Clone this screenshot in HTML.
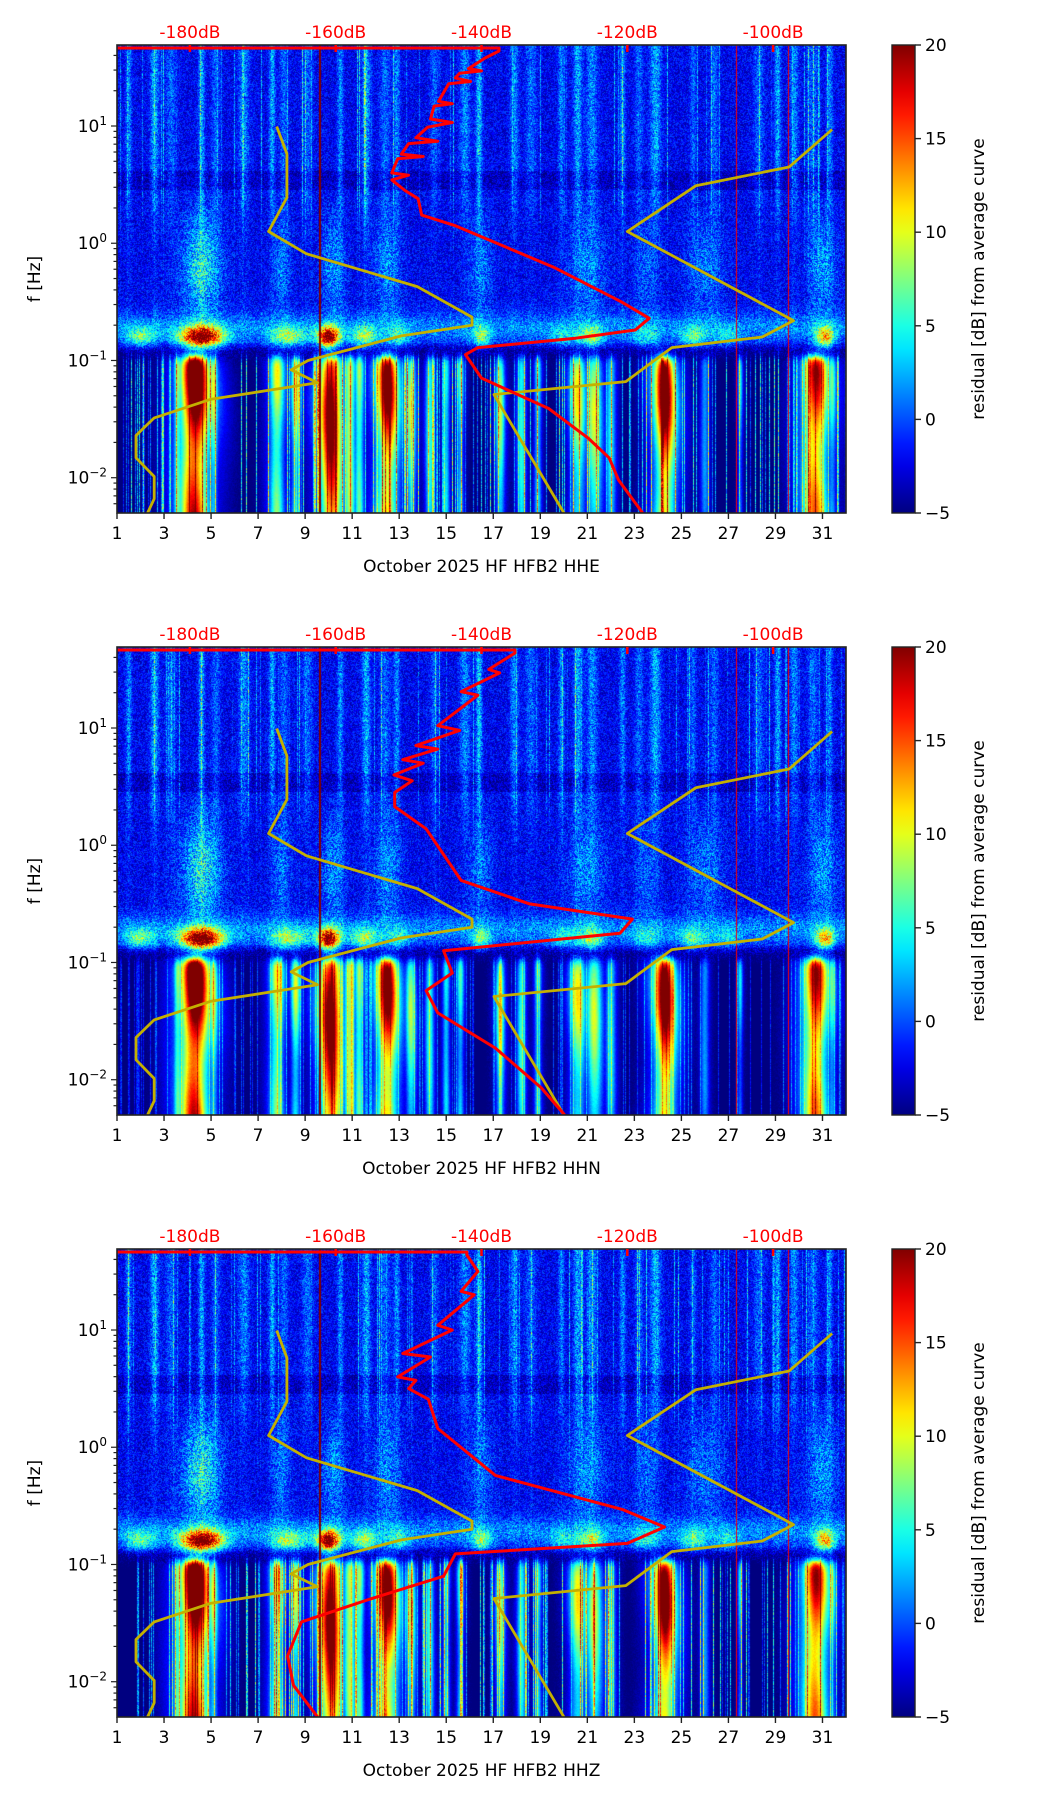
<!DOCTYPE html>
<html><head><meta charset="utf-8">
<style>
html,body{margin:0;padding:0;background:#fff;}
body{width:1052px;height:1806px;position:relative;overflow:hidden;font-family:"DejaVu Sans","Liberation Sans",sans-serif;}
canvas{position:absolute;}
svg{position:absolute;left:0;top:0;}
</style></head>
<body>
<svg id="fig" width="1052" height="1806"></svg>
<script>
// ---- data arrays ----
const panelTitles = ["October 2025 HF HFB2  HHE","October 2025 HF HFB2  HHN","October 2025 HF HFB2  HHZ"];
const dayTicks = [1,3,5,7,9,11,13,15,17,19,21,23,25,27,29,31];
const dbTicks = [-180,-160,-140,-120,-100];
const cbTicks = [-5,0,5,10,15,20];
const decadeTicks = [-2,-1,0,1];
// NLNM (low noise model): dB, log10 f
const nlnmDb = [-168.1,-166.7,-166.7,-169.2,-164,-148.8,-141.3,-141.3,-151,-163.8,-166.1,-162.5,-177.1,-184.9,-187.4,-187.4,-184.9,-184.9,-185.8];
const nlnmLf = [0.996,0.762,0.39,0.10,-0.09,-0.37,-0.63,-0.70,-0.79,-1.0,-1.08,-1.19,-1.33,-1.49,-1.64,-1.83,-1.99,-2.18,-2.30];
// NHNM (high noise model)
const nhnmDb = [-91.9,-97.8,-110.6,-120,-97.2,-101.5,-113.9,-120.2,-138.3,-128.7];
const nhnmLf = [0.97,0.65,0.49,0.10,-0.66,-0.80,-0.89,-1.18,-1.29,-2.30];
// mean PSD curves per channel
const psdDbE = [-190,-137.6,-137.6,-139.5,-141.8,-140,-143,-143.6,-141.5,-144.5,-145.9,-144,-146.5,-147,-144,-147.4,-149,-146,-150,-151,-148,-151.5,-152.3,-150,-152.3,-150.5,-148.7,-148.2,-143.6,-129.9,-120.8,-117.0,-118.9,-127.1,-140.5,-142.2,-140,-130.8,-125.4,-122.5,-121.2,-117.9];
const psdLfE = [1.665,1.665,1.64,1.58,1.49,1.47,1.45,1.41,1.38,1.36,1.21,1.19,1.17,1.06,1.03,0.99,0.9,0.87,0.85,0.76,0.74,0.72,0.6,0.58,0.54,0.45,0.38,0.24,0.15,-0.21,-0.5,-0.64,-0.74,-0.81,-0.89,-0.95,-1.15,-1.41,-1.66,-1.83,-2.02,-2.3];
const psdDbN = [-190,-135.4,-135.4,-139,-137.5,-142.8,-140.5,-146,-143,-149,-146,-150.8,-148,-152,-149.5,-151.9,-151.9,-147.6,-142.8,-133.4,-119.3,-121,-145.2,-144,-147.6,-146,-138.1,-131.8,-128.6];
const psdLfN = [1.665,1.665,1.64,1.5,1.47,1.31,1.28,1.02,0.98,0.85,0.82,0.73,0.7,0.6,0.55,0.45,0.33,0.14,-0.3,-0.5,-0.63,-0.75,-0.9,-1.09,-1.24,-1.43,-1.73,-2.07,-2.3];
const psdDbZ = [-190,-142,-142,-140.5,-142.8,-141,-146,-144,-150.8,-147,-151.5,-149,-150,-147.3,-146,-138.1,-120.7,-114.9,-120,-143.6,-145.2,-155.5,-164.7,-166.6,-165.8,-162.5];
const psdLfZ = [1.665,1.665,1.64,1.5,1.33,1.3,1.04,1.0,0.8,0.77,0.6,0.57,0.5,0.41,0.16,-0.24,-0.53,-0.68,-0.82,-0.91,-1.1,-1.3,-1.49,-1.78,-2.03,-2.3];
// heatmap features: day centre, width (days), residual amplitude (dB)
const hfStripeDay = [1.5,2.6,3.3,4.6,5.2,6.4,7.6,8.1,9.1,10.5,11.6,12.4,12.9,14.5,15.8,16.4,17.9,18.6,19.9,20.6,21.2,22.5,23.2,23.9,25.5,26.4,28.3,29.1,29.8,30.6,31.3];
const hfStripeAmp = [4,5,3,5,3,4,5,3,3,4,5,3,4,3,4,6,4,3,4,5,4,4,3,5,3,3,3,5,4,3,4];
const glowDay = [4.6,8,10.2,12.5,16.5,21,23.5,26,31];
const glowWidth = [0.8,0.4,0.5,0.6,0.5,0.8,0.5,0.8,0.6];
const glowAmp = [7,3,4,3.5,3,3.5,2.5,3,4];
const msDay = [2,4.6,8.3,10,11.5,13,16.5,20,21.2,23.5,25.5,27,31.1];
const msWidth = [0.6,0.9,0.8,0.45,0.6,0.5,0.4,0.6,0.5,0.6,0.6,0.5,0.4];
const msAmp = [7,22,8,22,8,5,7,4,8,4,6,4,12];
const lowDay = [4.3,3.6,5.1,7.8,8.6,10.1,10.9,11.3,12.5,13.5,14.3,15,15.6,17.3,18.2,18.9,20.6,21.3,22.0,24.3,26,27.5,30.7,31.4];
const lowWidth = [0.5,0.18,0.18,0.28,0.18,0.4,0.22,0.18,0.4,0.2,0.17,0.14,0.14,0.17,0.17,0.14,0.3,0.3,0.2,0.38,0.17,0.1,0.45,0.17];
const lowAmp = [25,12,11,13,11,23,14,12,20,11,10,9,9,11,10,9,12,12,9,21,7,7,20,9];

// ---- geometry ----
const AX_L=117, AX_W=729, AX_H=468, PANEL_TOPS=[45,647,1249];
const D0=1, D1=32, LF_TOP=1.691, LF_BOT=-2.301, DB0=-190, DB1=-90;
function xDay(d){return AX_L+(d-D0)/(D1-D0)*AX_W;}
function xDb(db){return AX_L+(db-DB0)/(DB1-DB0)*AX_W;}
function yLf(lf,top){return top+(LF_TOP-lf)/(LF_TOP-LF_BOT)*AX_H;}
function jet(v){let t=(v+5)/25;t=Math.max(0,Math.min(1,t));
 const c=x=>Math.max(0,Math.min(1,x));
 return [c(1.5-Math.abs(4*t-3)),c(1.5-Math.abs(4*t-2)),c(1.5-Math.abs(4*t-1))];}
function hash(a,b){let h=(a*374761393+b*668265263)|0;h=(h^(h>>>13))*1274126177|0;return ((h^(h>>>16))>>>0)/4294967295;}
function sig(z){return 1/(1+Math.exp(-z));}
const NS='http://www.w3.org/2000/svg';
const svg=document.getElementById('fig');
function el(tag,attrs,parent){const e=document.createElementNS(NS,tag);for(const k in attrs)e.setAttribute(k,attrs[k]);(parent||svg).appendChild(e);return e;}
function gauss(d,c,w){const z=(d-c)/w;return Math.exp(-z*z);}

function drawHeat(top,pi){
 const cv=document.createElement('canvas');
 cv.width=AX_W;cv.height=AX_H;cv.style.left=AX_L+'px';cv.style.top=top+'px';
 
 
 document.body.insertBefore(cv,svg);
 const ctx=cv.getContext('2d');const img=ctx.createImageData(AX_W,AX_H);
 const hf=new Float32Array(AX_W),gl=new Float32Array(AX_W),ms=new Float32Array(AX_W),lo=new Float32Array(AX_W),sp=new Float32Array(AX_W);
 for(let x=0;x<AX_W;x++){const d=D0+(x+0.5)/AX_W*(D1-D0);
  let a=0;for(let i=0;i<hfStripeDay.length;i++)a+=hfStripeAmp[i]*gauss(d,hfStripeDay[i],0.13+0.05*(i%3));
  a+= (hash(x,pi*7+3)<0.10)?6*hash(x,pi+11):0; hf[x]=a;
  a=0;for(let i=0;i<glowDay.length;i++)a+=glowAmp[i]*gauss(d,glowDay[i],glowWidth[i]);gl[x]=a;
  a=0;for(let i=0;i<msDay.length;i++)a+=msAmp[i]*gauss(d,msDay[i],msWidth[i]);ms[x]=a;
  a=0;for(let i=0;i<lowDay.length;i++){const c=lowAmp[i]*gauss(d,lowDay[i],lowWidth[i])+0.45*lowAmp[i]*gauss(d,lowDay[i],lowWidth[i]*2.5);if(c>a)a=c;}
  lo[x]=a; sp[x]=(hash(x,pi*5+1)<0.2)?(5+11*hash(x,pi+5)):0;}
 for(let y=0;y<AX_H;y++){const lf=LF_TOP-(y+0.5)/AX_H*(LF_TOP-LF_BOT);
  const sHi=sig((lf-0.3)/0.12);
  const sLow=sig((-0.97-lf)/0.025);
  const band=Math.exp(-Math.pow((lf+0.72)/0.13,2));
  const blobV=Math.exp(-Math.pow((lf+0.80)/0.09,2));
  const glowV=Math.exp(-Math.pow((lf+0.2)/0.45,2));
  const lowProf=0.72+0.28*Math.exp(-Math.pow((lf+1.25)/0.45,2));
  for(let x=0;x<AX_W;x++){const d=D0+(x+0.5)/AX_W*(D1-D0);
   const n=hash(x,y+pi*1000),n2=hash(y+7,x+pi*333);
   let up=-2.2+(n-0.5)*4.5;
   if(lf>0.45&&lf<0.62)up-=1.3;
   up+=sHi*hf[x]*(0.4+1.0*n2);
   up+=(1-sHi)*hf[x]*0.3*n2;
   up+=gl[x]*glowV*(0.6+0.7*n);
   up+=band*(3.5+(n2-0.5)*3)+ms[x]*blobV*(0.85+0.3*n);
   if(lf<-0.85)up-=3*sig((-0.88-lf)/0.02);
   let low=-5.5+lo[x]*lowProf*(0.85+0.15*Math.sin(lf*4+x*0.07))+sp[x]*(0.4+0.5*n2)+(n-0.5)*1.0;
   let v=up*(1-sLow)+low*sLow;
   if(Math.abs(d-9.65)<0.045)v=21;
   else if(Math.abs(d-27.35)<0.02||Math.abs(d-29.55)<0.02)v=Math.max(v,17);
   const c=jet(v);const k=(y*AX_W+x)*4;
   img.data[k]=c[0]*255;img.data[k+1]=c[1]*255;img.data[k+2]=c[2]*255;img.data[k+3]=255;}}
 ctx.putImageData(img,0,0);
}

function txt(x,y,s,attrs,name){const t=el('text',Object.assign({x:x,y:y},attrs));t.textContent=s;
 
 return t;}

const psdDbs=[psdDbE,psdDbN,psdDbZ], psdLfs=[psdLfE,psdLfN,psdLfZ];
for(let pi=0;pi<3;pi++){
 const top=PANEL_TOPS[pi];
 drawHeat(top,pi);
 const clip=el('clipPath',{id:'clip'+pi});el('rect',{x:AX_L,y:top-3,width:AX_W,height:AX_H+3},clip);
 const g=el('g',{'clip-path':'url(#clip'+pi+')'});
 
 
 [[nlnmDb,nlnmLf,'#c4b000','nlnm-line'],[nhnmDb,nhnmLf,'#c4b000','nhnm-line']].forEach(a=>{
   let pts=[];for(let i=0;i<a[0].length;i++)pts.push(xDb(a[0][i]).toFixed(1)+','+yLf(a[1][i],top).toFixed(1));
   const p=el('polyline',{points:pts.join(' '),fill:'none',stroke:a[2],'stroke-width':2.8,'stroke-linejoin':'round'},g);
   
   });
 {let pts=[];const A=psdDbs[pi],B=psdLfs[pi];for(let i=0;i<A.length;i++)pts.push(xDb(A[i]).toFixed(1)+','+yLf(B[i],top).toFixed(1));
  const p=el('polyline',{points:pts.join(' '),fill:'none',stroke:'#ff0000','stroke-width':3,'stroke-linejoin':'round'},g);
  
  }
 const fr=el('rect',{x:AX_L,y:top,width:AX_W,height:AX_H,fill:'none',stroke:'#222','stroke-width':1.6});
 
 
 dayTicks.forEach(d=>{const x=xDay(d);
  el('line',{x1:x,y1:top+AX_H,x2:x,y2:top+AX_H+6,stroke:'#222','stroke-width':1.4});
  txt(x,top+AX_H+26,String(d),{'font-size':17,'text-anchor':'middle',fill:'#000'},'x-tick-label');});
 txt(AX_L+AX_W/2,top+AX_H+59,panelTitles[pi],{'font-size':17,'text-anchor':'middle',fill:'#000','xml:space':'preserve'},'x-axis-title');
 dbTicks.forEach(db=>{const x=xDb(db);
  el('line',{x1:x,y1:top,x2:x,y2:top+7,stroke:'#ff0000','stroke-width':2.5});
  txt(x,top-7,db+'dB',{'font-size':17,'text-anchor':'middle',fill:'#ff0000'},'top-db-tick-label');});
 for(let dec=-3;dec<=1;dec++){for(let m=1;m<10;m++){const lf=dec+Math.log10(m);
   if(lf<LF_BOT-1e-6||lf>LF_TOP)continue;const y=yLf(lf,top);
   el('line',{x1:AX_L-(m==1?6:3.5),y1:y,x2:AX_L,y2:y,stroke:'#222','stroke-width':1.2});}}
 decadeTicks.forEach(dc=>{const y=yLf(dc,top);
  const t=txt(AX_L-10,y+6,'10',{'font-size':17,'text-anchor':'end',fill:'#000'},'y-tick-label');
  const s=el('tspan',{dy:-7,'font-size':12},t);s.textContent=(dc<0?'\u2212':'')+Math.abs(dc);});
 txt(0,0,'f [Hz]',{'font-size':17,'text-anchor':'middle',fill:'#000',transform:'translate(40,'+(top+AX_H/2)+') rotate(-90)'},'y-axis-title');
 const gid='cb'+pi;const lg=el('linearGradient',{id:gid,x1:0,y1:1,x2:0,y2:0});
 for(let i=0;i<=20;i++){const v=-5+i*25/20;const c=jet(v);
  el('stop',{offset:(i/20),'stop-color':'rgb('+c.map(z=>Math.round(z*255)).join(',')+')'},lg);}
 const cb=el('rect',{x:892,y:top,width:23,height:AX_H,fill:'url(#'+gid+')',stroke:'#222','stroke-width':1.4});
 
 
 cbTicks.forEach(v=>{const y=top+AX_H-(v+5)/25*AX_H;
  el('line',{x1:915,y1:y,x2:921,y2:y,stroke:'#222','stroke-width':1.4});
  txt(925,y+6,(v<0?'\u2212':'')+Math.abs(v),{'font-size':17,fill:'#000'},'colorbar-tick-label');});
 txt(0,0,'residual [dB] from average curve',{'font-size':17,'text-anchor':'middle',fill:'#000',transform:'translate(984,'+(top+AX_H/2)+') rotate(-90)'},'colorbar-title');
}
</script>
</body></html>
